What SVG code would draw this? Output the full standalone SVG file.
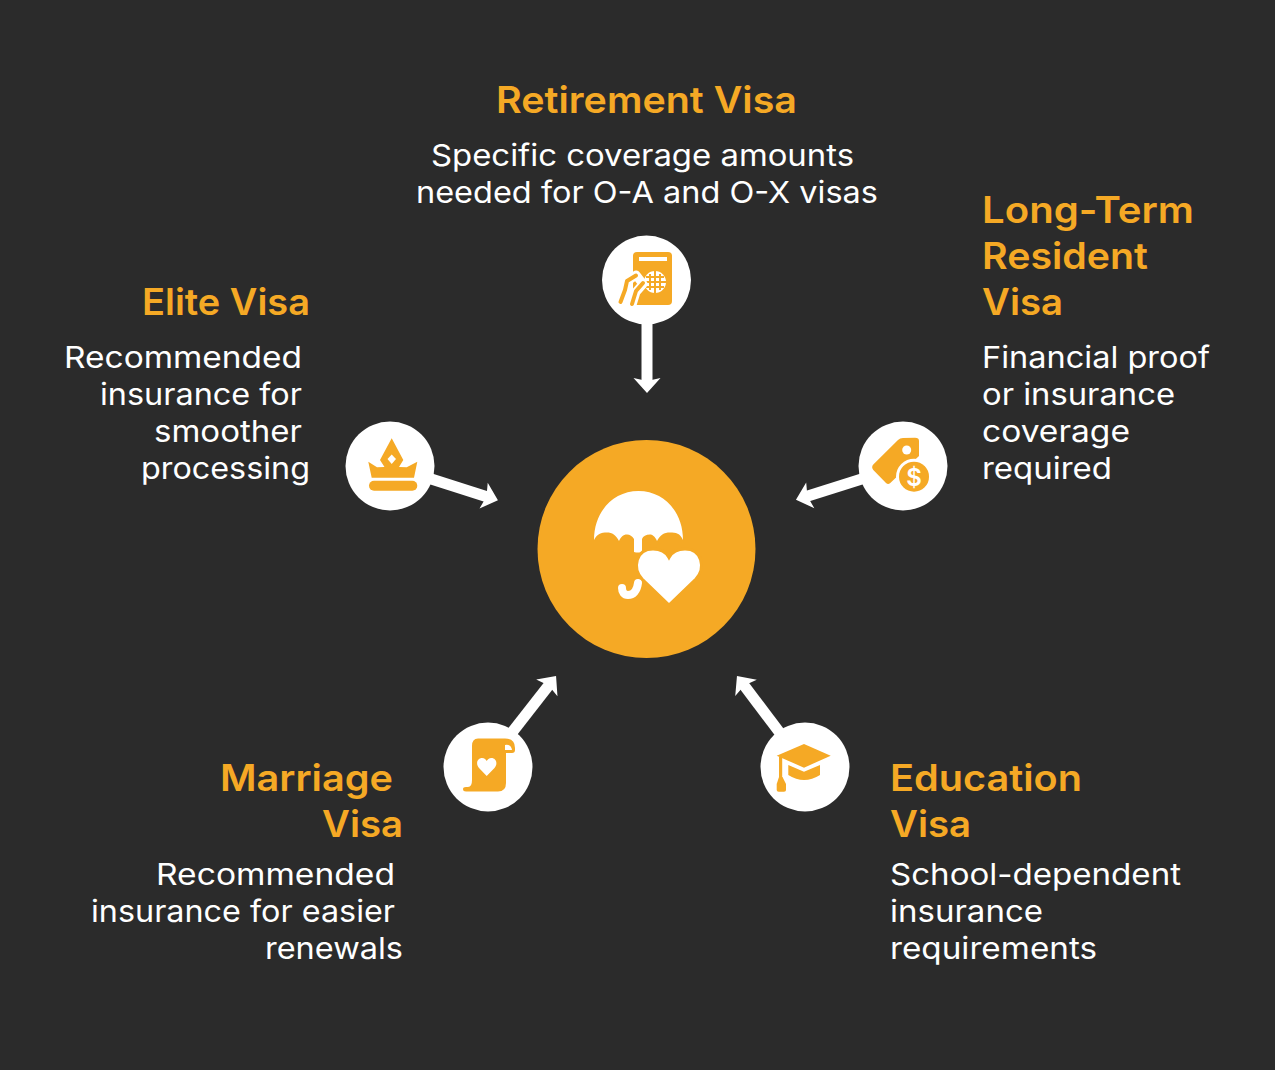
<svg xmlns="http://www.w3.org/2000/svg" width="1275" height="1070" viewBox="0 0 1275 1070">
<style>
.t{font-family:"Inter","Noto Sans","Liberation Sans",sans-serif;font-size:37px;font-weight:600;fill:#f5a925}
.b{font-family:"Inter","Noto Sans","Liberation Sans",sans-serif;font-size:30px;font-weight:400;fill:#fff}
.c{fill:#fff}
.o{fill:#f5a925}
.w{fill:#fff}
.conn{stroke:#fff;stroke-width:11;fill:none;marker-end:url(#ah)}
</style>
<defs>
<marker id="ah" markerUnits="userSpaceOnUse" viewBox="-10 -15 25 30" markerWidth="25" markerHeight="30" refX="0" refY="0" orient="auto">
<path d="M-5,-13.5 L10,0 L-5,13.5 L-2,0 Z" fill="#fff"/>
</marker>
</defs>
<rect width="1275" height="1070" fill="#2b2b2b"/>
<g id="connectors">
<line class="conn" x1="647" y1="320" x2="647" y2="383"/>
<line class="conn" x1="425" y1="477" x2="488.400" y2="497.200"/>
<line class="conn" x1="868" y1="477" x2="805.500" y2="496.800"/>
<line class="conn" x1="510" y1="735" x2="549.900" y2="683.900"/>
<line class="conn" x1="783" y1="737" x2="743" y2="684"/>
</g>
<g id="center">
<circle class="o" cx="646.500" cy="549" r="109"/>
<path class="w" d="M594,540 C594,512 613,491 638.500,491 C664,491 683,512 683,540 C680,533 676,532.500 670,532.500 C664,532.500 660,535 657,541 C655,536 652,534.500 650,534.500 C646,534.500 643,536 642,539 L642,552 Q638,553 634,552 L634,539 C632,536 630,534.500 627,534.500 C623,534.500 621,537 619,541 C616,535 612,532.500 607,532.500 C601,532.500 597,534 594,540Z"/>
<path d="M638,583 C637,591 633,595 628,595 C624,595 622,592 622,588" fill="none" stroke="#fff" stroke-width="8" stroke-linecap="round"/>
<path class="w" stroke="#f5a925" stroke-width="3" d="M669,605 L642,579 C632,568 636,549 653,549 C661,549 666,552 669,557.500 C672,552 677,549 685,549 C702,549 706,568 696,579Z"/>
</g>
<g id="retirement">
<circle class="c" cx="646.500" cy="280" r="44.500"/>
<rect class="o" x="633" y="252" width="39" height="53" rx="4"/>
<rect class="w" x="639" y="257" width="28" height="4"/>
<circle class="w" cx="655" cy="282" r="11"/>
<path d="M655,271 V293 M644,282 H666 M650,274 V290 M660,274 V290 M646,277 H664 M646,287 H664" stroke="#f5a925" stroke-width="2" fill="none"/>
<path d="M620,303 L625,290 L628,281 L636,275 L643,284 L636,292 L632,305" fill="none" stroke="#fff" stroke-width="9" stroke-linejoin="round"/>
<path d="M620.500,302 L625,290 L627,281 L636,275.500 M643,283 L636,291 L632,304" fill="none" stroke="#f5a925" stroke-width="4" stroke-linecap="round" stroke-linejoin="round"/>
</g>
<g id="elite">
<circle class="c" cx="390" cy="466" r="44.500"/>
<rect class="o" x="369" y="480.700" width="48.300" height="10" rx="5"/>
<path class="o" d="M391.700,438.300 L403.300,460 L399,467 L406.700,467.300 L417.300,461.700 L414,477.700 L371.700,477.700 L368.300,461.700 L377,467.300 L384.500,467 L380,460Z"/>
<path class="w" d="M391.700,454.500 L396,459 L391.700,464 L387.500,459Z"/>
</g>
<g id="longterm">
<circle class="c" cx="903" cy="466" r="44.500"/>
<path class="o" d="M873.300,464.500 L898,440 Q900,438 903,438 L915,437.700 Q919,437.700 919,441 L919,456 L890,483.300 Q888,485 886,483 L873.300,470 Q871,467 873.300,464.500Z"/>
<circle class="w" cx="906.700" cy="450" r="4.500"/>
<circle class="w" cx="914" cy="476.700" r="18"/>
<circle class="o" cx="914" cy="476.700" r="15"/>
<text x="914" y="485.500" font-family="Inter,'Liberation Sans',sans-serif" font-size="24" font-weight="600" fill="#fff" text-anchor="middle">$</text>
</g>
<g id="marriage">
<circle class="c" cx="488" cy="767" r="44.500"/>
<path class="o" d="M478,738.500 H505 Q515,738.500 515,748 V750 Q515,753 512,753 H506 V783 Q506,791.500 498,791.500 H466 Q463,791.500 463,789 Q463,787 466,787 H468 Q472,787 472,780 V746 Q472,738.500 478,738.500Z"/>
<path class="w" d="M505,745 Q511,744 512,750 H505Z"/>
<path class="w" d="M486.700,776 L479,768 C475,763 478,758 482,758 C484.500,758 486,759.500 486.700,761 C487.500,759.500 489,758 491.500,758 C495.500,758 498.500,763 494.500,768Z"/>
</g>
<g id="education">
<circle class="c" cx="805" cy="767" r="44.500"/>
<path class="o" d="M776.700,755.700 L804,744 L830.700,755.700 L804,767.700Z"/>
<path class="o" d="M788.300,765 L804,771.700 L820,765 V775 Q804,785 788.300,775Z"/>
<rect class="o" x="779" y="757" width="3.200" height="22"/>
<path class="o" d="M779,777 H782.500 L786,784 V790 Q786,791.700 784,791.700 H778.700 Q776.700,791.700 776.700,790 V784Z"/>
</g>
<g id="retirement-text">
<text class="t" x="496" y="113" textLength="301" lengthAdjust="spacingAndGlyphs">Retirement Visa</text>
<text class="b" x="431" y="166" textLength="423" lengthAdjust="spacingAndGlyphs">Specific coverage amounts</text>
<text class="b" x="416" y="203" textLength="462" lengthAdjust="spacingAndGlyphs">needed for O-A and O-X visas</text>
</g>
<g id="longterm-text">
<text class="t" x="982" y="223" textLength="212" lengthAdjust="spacingAndGlyphs">Long-Term</text>
<text class="t" x="982" y="269" textLength="166" lengthAdjust="spacingAndGlyphs">Resident</text>
<text class="t" x="982" y="315" textLength="81" lengthAdjust="spacingAndGlyphs">Visa</text>
<text class="b" x="982" y="368" textLength="228" lengthAdjust="spacingAndGlyphs">Financial proof</text>
<text class="b" x="982" y="405" textLength="193" lengthAdjust="spacingAndGlyphs">or insurance</text>
<text class="b" x="982" y="442" textLength="148" lengthAdjust="spacingAndGlyphs">coverage</text>
<text class="b" x="982" y="479" textLength="130" lengthAdjust="spacingAndGlyphs">required</text>
</g>
<g id="elite-text">
<text class="t" x="142" y="315" textLength="168" lengthAdjust="spacingAndGlyphs">Elite Visa</text>
<text class="b" x="64" y="368" textLength="238" lengthAdjust="spacingAndGlyphs">Recommended</text>
<text class="b" x="100" y="405" textLength="202" lengthAdjust="spacingAndGlyphs">insurance for</text>
<text class="b" x="154" y="442" textLength="148" lengthAdjust="spacingAndGlyphs">smoother</text>
<text class="b" x="141" y="479" textLength="169" lengthAdjust="spacingAndGlyphs">processing</text>
</g>
<g id="marriage-text">
<text class="t" x="220" y="791" textLength="173" lengthAdjust="spacingAndGlyphs">Marriage</text>
<text class="t" x="322" y="837" textLength="81" lengthAdjust="spacingAndGlyphs">Visa</text>
<text class="b" x="156" y="885" textLength="239" lengthAdjust="spacingAndGlyphs">Recommended</text>
<text class="b" x="91" y="922" textLength="304" lengthAdjust="spacingAndGlyphs">insurance for easier</text>
<text class="b" x="265" y="959" textLength="138" lengthAdjust="spacingAndGlyphs">renewals</text>
</g>
<g id="education-text">
<text class="t" x="890" y="791" textLength="192" lengthAdjust="spacingAndGlyphs">Education</text>
<text class="t" x="890" y="837" textLength="81" lengthAdjust="spacingAndGlyphs">Visa</text>
<text class="b" x="890" y="885" textLength="291" lengthAdjust="spacingAndGlyphs">School-dependent</text>
<text class="b" x="890" y="922" textLength="153" lengthAdjust="spacingAndGlyphs">insurance</text>
<text class="b" x="890" y="959" textLength="207" lengthAdjust="spacingAndGlyphs">requirements</text>
</g>
</svg>
